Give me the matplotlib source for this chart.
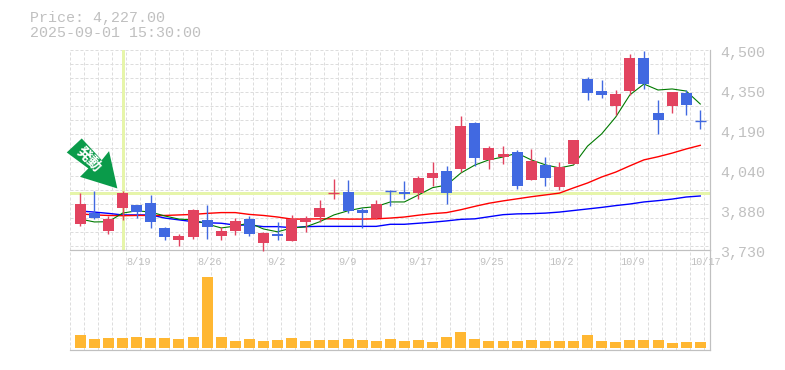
import numpy as np
import matplotlib
matplotlib.use("Agg")
import matplotlib.pyplot as plt
from matplotlib.patches import Polygon
from matplotlib.transforms import Affine2D

# daily candles
opens = [3830, 3872, 3803, 3892, 3903, 3911, 3815, 3769, 3780, 3846, 3784, 3803, 3849, 3757, 3792,
         3765, 3838, 3857, 3948, 3953, 3884, 3853, 3961, 3953, 3949, 4007, 4034, 4042, 4219, 4077,
         4088, 4107, 4000, 4057, 3973, 4061, 4388, 4342, 4284, 4342, 4469, 4257, 4284, 4334, 4227]
closes = [3907, 3853, 3849, 3949, 3876, 3838, 3780, 3784, 3884, 3819, 3803, 3842, 3792, 3796, 3784,
          3849, 3853, 3892, 3950, 3880, 3872, 3907, 3958, 3946, 4007, 4026, 3949, 4207, 4084, 4123,
          4100, 3976, 4073, 4007, 4050, 4154, 4334, 4327, 4331, 4469, 4369, 4231, 4338, 4288, 4227]
highs = [3949, 3957, 3861, 3957, 3903, 3942, 3819, 3792, 3888, 3903, 3819, 3853, 3861, 3799, 3838,
         3865, 3861, 3923, 4003, 4000, 3892, 3923, 3961, 3996, 4015, 4069, 4053, 4246, 4223, 4130,
         4130, 4115, 4119, 4088, 4069, 4154, 4396, 4385, 4346, 4485, 4496, 4308, 4338, 4346, 4269]
lows = [3822, 3849, 3792, 3846, 3853, 3815, 3769, 3745, 3772, 3772, 3769, 3788, 3784, 3726, 3769,
        3765, 3799, 3838, 3926, 3872, 3815, 3849, 3899, 3926, 3926, 3976, 3907, 4030, 4053, 4042,
        4061, 3965, 4000, 3976, 3961, 4061, 4308, 4315, 4250, 4327, 4350, 4177, 4257, 4250, 4196]

# moving averages
ma_short = [3849, 3838, 3839, 3872, 3881, 3876, 3861, 3849, 3846, 3830, 3815, 3822, 3834, 3811, 3800,
            3815, 3819, 3839, 3865, 3881, 3892, 3897, 3915, 3915, 3942, 3970, 3980, 4026, 4057, 4077,
            4088, 4103, 4077, 4058, 4046, 4057, 4130, 4177, 4242, 4327, 4369, 4346, 4350, 4342, 4292]
ma_mid = [3869, 3865, 3863, 3862, 3863, 3863, 3863, 3865, 3867, 3871, 3874, 3874, 3867, 3863, 3857,
          3849, 3849, 3850, 3850, 3849, 3849, 3850, 3853, 3857, 3864, 3870, 3874, 3885, 3898, 3910,
          3919, 3927, 3935, 3942, 3949, 3969, 3988, 4011, 4030, 4054, 4077, 4089, 4103, 4119, 4133]
ma_long = [3880, 3876, 3871, 3865, 3865, 3865, 3853, 3846, 3839, 3835, 3833, 3826, 3826, 3820, 3820,
           3816, 3820, 3821, 3821, 3821, 3821, 3821, 3829, 3829, 3833, 3837, 3842, 3848, 3850, 3858,
           3866, 3869, 3870, 3872, 3876, 3882, 3888, 3894, 3901, 3907, 3915, 3920, 3926, 3934, 3938]

volumes = [13, 9, 10, 10, 11, 10, 10, 9, 11, 71, 11, 7, 9, 7, 8, 10, 7, 8, 8, 9, 8, 7, 9,
           7, 8, 6, 11, 16, 9, 7, 7, 7, 8, 7, 7, 7, 13, 7, 6, 8, 8, 8, 5, 6, 6]

date_idx = [4, 9, 14, 19, 24, 29, 34, 39, 44]
date_labels = ["8/19", "8/26", "9/2", "9/9", "9/17", "9/25", "10/2", "10/9", "10/17"]
price_labels = ["4,500", "4,350", "4,190", "4,040", "3,880", "3,730"]

signal_idx = 3
signal_price = 3948

GRAY = "#c0c0c0"
GRID = "#dddddd"
PX = 0.72  # one pixel in points at dpi 100
W, H = 785, 370
MONO = "Liberation Mono"

fig = plt.figure(figsize=(W / 100, H / 100), dpi=100)
ax = fig.add_axes([70 / W, (H - 250) / H, 640 / W, 200 / H])
vol_ax = fig.add_axes([70 / W, (H - 350) / H, 640 / W, 100 / H])
vol_ax.patch.set_visible(False)
ax.set_zorder(2)

x = np.arange(len(opens))
for a in (ax, vol_ax):
    a.set_xlim(-0.73, 44.69)
    a.set_xticks(np.arange(-0.73, 44.7, 1))
    a.tick_params(length=0, labelbottom=False, labelleft=False)
    a.grid(True, axis="x", color=GRID, lw=1 * PX, ls=(0, (3, 2)))
    a.set_axisbelow(True)
    for side in ("left", "top"):
        a.spines[side].set_visible(False)
    for side in ("right", "bottom"):
        a.spines[side].set_color(GRAY)
        a.spines[side].set_linewidth(1.2 * PX)
ax.patch.set_visible(False)

ax.set_ylim(3730, 4500)
ax.set_yticks(4500 - 53.9 * np.arange(15))
ax.grid(True, axis="y", color=GRID, lw=1 * PX, ls=(0, (3, 2)))

# signal cross
ax.axhline(signal_price, color="#e6f5aa", lw=3 * PX, zorder=1)
ax.axvline(signal_idx, color="#e6f5aa", lw=3 * PX, zorder=1)

# moving averages go under the candles
ax.plot(x, ma_long, color="#0000ff", lw=1.0, zorder=2)
ax.plot(x, ma_mid, color="#ff0000", lw=1.0, zorder=2)
ax.plot(x, ma_short, color="#007a00", lw=0.8, zorder=2)

for i in x:
    up = closes[i] > opens[i]
    color = "#e2435f" if up else "#4169e1"
    ax.vlines(i, lows[i], highs[i], color=color, lw=1.4 * PX, zorder=3, clip_on=False)
    if abs(closes[i] - opens[i]) < 5:
        ax.hlines(closes[i], i - 0.39, i + 0.39, color=color, lw=1.4 * PX, zorder=3)
    else:
        ax.bar(i, closes[i] - opens[i], bottom=opens[i], width=0.78, color=color, zorder=3)

# volume
vol_ax.set_ylim(-2, 98)
vol_ax.set_yticks([])
vol_ax.bar(x, volumes, width=0.78, color="#ffb732", zorder=2)

for idx, lab in zip(date_idx, date_labels):
    ax.annotate(lab, (idx, 3730), xytext=(-10 * PX, -12 * PX), textcoords="offset points",
                ha="left", va="center", family=MONO, fontsize=7.4, color=GRAY,
                annotation_clip=False, zorder=6)

for val, lab in zip(np.linspace(4500, 3730, len(price_labels)), price_labels):
    ax.annotate(lab, (44.69, val), xytext=(10 * PX, -3 * PX), textcoords="offset points",
                ha="left", va="center", family=MONO, fontsize=10.8, color=GRAY,
                annotation_clip=False)

fig.text(30 / W, 1 - 18 / H, "Price: 4,227.00", ha="left", va="center", family=MONO,
         fontsize=10.8, color=GRAY)
fig.text(30 / W, 1 - 33 / H, "2025-09-01 15:30:00", ha="left", va="center", family=MONO,
         fontsize=10.8, color=GRAY)

# signal arrow, pixel offsets from its tip
tip = ax.transData.transform((signal_idx - 0.37, signal_price + 19))
arrow_px = np.array([(-50.6, 36), (-35.6, 50), (-15.6, 28.3), (-8.3, 37.3), (0, 0), (-37.3, 11.6), (-29, 20)])
ax.add_patch(Polygon(arrow_px, closed=True, facecolor="#0a9b4a", edgecolor="none", clip_on=False, zorder=5,
                     transform=Affine2D().translate(*tip)))
ax.annotate("発動", (signal_idx - 0.37, signal_price + 19), xytext=(-28.5 * PX, 29 * PX), textcoords="offset points",
            ha="center", va="center", rotation=-45, family="Noto Sans CJK JP", fontweight="bold",
            fontsize=10.5, color="white", annotation_clip=False, zorder=6)

fig.savefig("out.png", dpi=100)
